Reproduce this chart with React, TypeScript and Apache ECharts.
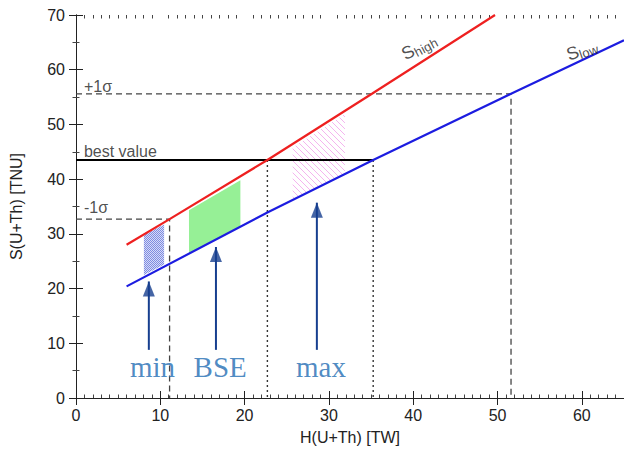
import React, { useEffect, useRef } from 'react';
import * as echarts from 'echarts';

// ---- axis ticks ----
const xMajorTicks = [0, 10, 20, 30, 40, 50, 60];
const xMinorTicks = Array.from({ length: 66 }, (_, i) => i).filter((v) => v % 10 !== 0);

// ---- model lines ----
const sHighLine: [number, number][] = [
  [6.0, 28.0], [11.1, 32.7], [22.7, 43.5], [35.1, 55.6], [49.7, 70.0],
];
const sLowLine: [number, number][] = [
  [6.0, 20.4], [22.7, 33.9], [35.25, 43.5], [51.6, 55.6], [65.0, 65.4],
];

// ---- measurement levels ----
const plusSigma = 55.6;
const bestValue = 43.5;
const minusSigma = 32.7;
const plusSigmaH = 51.6;
const bestHighH = 22.7;
const bestLowH = 35.25;
const minusSigmaH = 11.1;

// ---- shaded model regions (corners) ----
const regionMin: [number, number][] = [[8.05, 29.8], [10.45, 31.7], [10.45, 24.4], [8.05, 22.5]];
const regionBSE: [number, number][] = [[13.4, 34.3], [19.5, 39.8], [19.5, 31.3], [13.4, 26.4]];
const regionMax: [number, number][] = [[25.7, 45.8], [31.9, 51.9], [31.9, 40.9], [25.7, 36.2]];

// ---- arrows and their names ----
const arrowNames = ['min', 'BSE', 'max'];
const arrowH = [8.64, 16.6, 28.57];
const arrowTail = 8.8;
const arrowTip = [21.3, 27.6, 35.7];
const arrowTextH = [9.08, 17.1, 29.06];

const SANS = '"Liberation Sans", Arial, Helvetica, sans-serif';
const SERIF = '"Liberation Serif", "Times New Roman", serif';

function checkerPattern() {
  const c = document.createElement('canvas');
  c.width = 2;
  c.height = 2;
  const ctx = c.getContext('2d')!;
  ctx.fillStyle = '#d6dbf8';
  ctx.fillRect(0, 0, 2, 2);
  ctx.fillStyle = '#7f8ce0';
  ctx.fillRect(0, 0, 1, 1);
  ctx.fillRect(1, 1, 1, 1);
  return c;
}

function hatchPattern() {
  const c = document.createElement('canvas');
  c.width = 6;
  c.height = 6;
  const ctx = c.getContext('2d')!;
  ctx.clearRect(0, 0, 6, 6);
  ctx.strokeStyle = '#f4b4ef';
  ctx.lineWidth = 1;
  ctx.beginPath();
  ctx.moveTo(-1, -1); ctx.lineTo(7, 7);
  ctx.moveTo(5, -1); ctx.lineTo(7, 1);
  ctx.moveTo(-1, 5); ctx.lineTo(1, 7);
  ctx.stroke();
  return c;
}

function regionSeries(name: string, pts: [number, number][], fill: any) {
  return {
    type: 'custom',
    name,
    coordinateSystem: 'cartesian2d',
    xAxisIndex: 0,
    yAxisIndex: 0,
    z: 1,
    silent: true,
    data: pts,
    encode: { x: 0, y: 1 },
    renderItem: (params: any, api: any) => {
      if (params.dataIndex !== 0) return null;
      const points = pts.map((p) => api.coord(p));
      return { type: 'polygon', shape: { points }, style: { fill } };
    },
  };
}

function lineSeries(name: string, data: number[][], color: string, width: number, type: any, z = 3) {
  return {
    type: 'line',
    name,
    data,
    xAxisIndex: 0,
    yAxisIndex: 0,
    symbol: 'none',
    silent: true,
    z,
    lineStyle: { color, width, type },
  };
}

function buildOption() {
  const axisLine = { show: true, lineStyle: { color: '#222', width: 1 } };
  const xBase = { type: 'value', min: 0, max: 65, splitLine: { show: false } };
  const yBase = { type: 'value', min: 0, max: 70, interval: 10, splitLine: { show: false } };

  const labelItem = (x: number, y: number, text: string, extra: any = {}) => ({
    value: [x, y],
    label: {
      show: true,
      formatter: text,
      position: 'right',
      distance: 0,
      fontFamily: SANS,
      fontSize: 16,
      color: '#222',
      ...extra,
    },
  });

  const subRich = {
    s: { fontFamily: SANS, fontSize: 18, color: '#222', lineHeight: 21 },
    sub: { fontFamily: SANS, fontSize: 13, color: '#222', verticalAlign: 'bottom', lineHeight: 21 },
  };

  const arrowSeries = arrowH.map((h, i) =>
    lineSeries('arrow ' + arrowNames[i], [[h, arrowTail], [h, arrowTip[i]]], '#173f8f', 2, 'solid', 5)
  );

  return {
    animation: false,
    backgroundColor: '#fff',
    grid: { left: 75, top: 15, width: 552, height: 383, containLabel: false },
    xAxis: [
      {
        ...xBase,
        position: 'bottom',
        name: 'H(U+Th) [TW]',
        nameLocation: 'middle',
        nameGap: 31,
        nameTextStyle: { fontFamily: SANS, fontSize: 16, color: '#222' },
        axisLine,
        axisTick: { show: true, inside: true, length: 7, customValues: xMajorTicks, lineStyle: { color: '#222' } },
        axisLabel: { show: true, customValues: xMajorTicks, margin: 9, fontFamily: SANS, fontSize: 16, color: '#222' },
      },
      {
        ...xBase,
        position: 'top',
        axisLine,
        axisTick: { show: true, inside: true, length: 7, customValues: xMajorTicks, lineStyle: { color: '#222' } },
        axisLabel: { show: false },
      },
      {
        ...xBase,
        position: 'bottom',
        axisLine: { show: false },
        axisTick: { show: true, inside: true, length: 3.5, customValues: xMinorTicks, lineStyle: { color: '#444' } },
        axisLabel: { show: false },
      },
      {
        ...xBase,
        position: 'top',
        axisLine: { show: false },
        axisTick: { show: true, inside: true, length: 3.5, customValues: xMinorTicks, lineStyle: { color: '#444' } },
        axisLabel: { show: false },
      },
    ],
    yAxis: [
      {
        ...yBase,
        position: 'left',
        name: 'S(U+Th) [TNU]',
        nameLocation: 'middle',
        nameGap: 52,
        nameTextStyle: { fontFamily: SANS, fontSize: 16, color: '#222' },
        axisLine,
        axisTick: { show: true, inside: true, length: 7, lineStyle: { color: '#222' } },
        minorTick: { show: true, splitNumber: 2, length: 3.5, lineStyle: { color: '#444' } },
        axisLabel: { show: true, margin: 11, fontFamily: SANS, fontSize: 16, color: '#222' },
      },
      {
        ...yBase,
        position: 'right',
        axisLine,
        axisTick: { show: true, inside: true, length: 7, lineStyle: { color: '#222' } },
        minorTick: { show: true, splitNumber: 2, length: 3.5, lineStyle: { color: '#444' } },
        axisLabel: { show: false },
      },
    ],
    series: [
      regionSeries('min region', regionMin, { image: checkerPattern(), repeat: 'repeat' }),
      regionSeries('BSE region', regionBSE, '#96f096'),
      regionSeries('max region', regionMax, { image: hatchPattern(), repeat: 'repeat' }),
      lineSeries('+1σ', [[0, plusSigma], [plusSigmaH, plusSigma], [plusSigmaH, 0]], '#444', 1.3, [6, 4]),
      lineSeries('-1σ', [[0, minusSigma], [minusSigmaH, minusSigma], [minusSigmaH, 0]], '#444', 1.3, [6, 4]),
      lineSeries('best value', [[0, bestValue], [bestLowH, bestValue]], '#000', 2, 'solid'),
      lineSeries('best high', [[bestHighH, bestValue], [bestHighH, 0]], '#333', 1.4, [2, 3]),
      lineSeries('best low', [[bestLowH, bestValue], [bestLowH, 0]], '#333', 1.4, [2, 3]),
      lineSeries('S_high', sHighLine, '#ee2020', 2.2, 'solid', 4),
      lineSeries('S_low', sLowLine, '#1c1ce0', 2.2, 'solid', 4),
      ...arrowSeries,
      {
        type: 'scatter',
        name: 'arrow heads',
        xAxisIndex: 0,
        yAxisIndex: 0,
        symbol: 'triangle',
        symbolSize: [12, 15],
        symbolOffset: [0, '50%'],
        itemStyle: { color: '#173f8f' },
        silent: true,
        z: 6,
        data: arrowH.map((h, i) => [h, arrowTip[i]]),
      },
      {
        type: 'scatter',
        name: 'labels',
        xAxisIndex: 0,
        yAxisIndex: 0,
        symbolSize: 0,
        silent: true,
        z: 7,
        data: [
          labelItem(0.94, 56.9, '+1σ'),
          labelItem(0.94, 45.0, 'best value'),
          labelItem(0.94, 34.8, '-1σ'),
          labelItem(40.67, 64.2, '{s|S}{sub|high}', { position: 'inside', rotate: 28, rich: subRich }),
          labelItem(60.0, 63.6, '{s|S}{sub|low}', { position: 'inside', rotate: 19, rich: subRich }),
          ...arrowNames.map((n, i) =>
            labelItem(arrowTextH[i], 5.67, n, {
              position: 'inside',
              fontFamily: SERIF,
              fontSize: 29,
              color: '#1f6db3',
            })
          ),
        ],
      },
    ],
  };
}

export default function App() {
  const ref = useRef<HTMLDivElement>(null);
  useEffect(() => {
    if (!ref.current) return;
    const chart = echarts.init(ref.current, undefined, { renderer: 'svg' });
    chart.setOption(buildOption() as any);
    return () => chart.dispose();
  }, []);
  return (
    <div
      ref={ref}
      style={{ position: 'absolute', left: 0, top: 0, width: 624, height: 452, background: '#fff' }}
    />
  );
}
